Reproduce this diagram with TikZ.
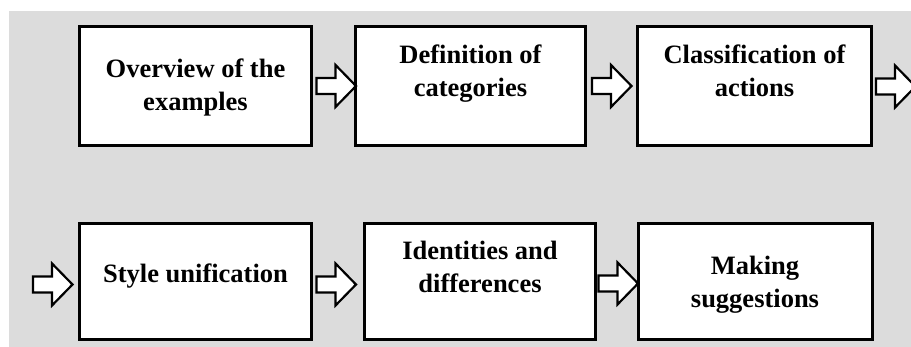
\documentclass[tikz,border=0pt]{standalone}
\usepackage{fontspec}
\setmainfont{Liberation Serif}
\usetikzlibrary{calc}
\definecolor{bggray}{RGB}{220,220,220}
\tikzset{
  blockarrow/.pic={\draw[line width=2.2pt, fill=white, line join=miter]
     (0,-8) -- (19,-8) -- (19,-21) -- (39.5,0) -- (19,21) -- (19,8) -- (0,8) -- cycle;},
}
\begin{document}
\begin{tikzpicture}[x=1pt,y=-1pt,
  stepbox/.style={draw, line width=3pt, fill=white, minimum width=#1, inner sep=0pt},
  toprow/.style={minimum height=119pt},
  botrow/.style={minimum height=116pt},
  label text/.style={anchor=base, align=center, font=\fontsize{26.5}{33}\selectfont\bfseries, inner sep=0pt}
]
\useasboundingbox (0,0) rectangle (911,347);
\fill[white] (0,0) rectangle (911,347);
\fill[bggray] (9,11) rectangle (911,347);

% boxes
\node[stepbox=232, toprow] (b1) at (195.5,86) {};
\node[stepbox=230, toprow] (b2) at (470.5,86) {};
\node[stepbox=234, toprow] (b3) at (754.5,86.5) {};
\node[stepbox=232, botrow] (b4) at (195.5,281.5) {};
\node[stepbox=231, botrow] (b5) at (480,281.5) {};
\node[stepbox=234, botrow] (b6) at (755,281.5) {};

% texts (base anchor = baseline of the last line)
\node[label text] (t1) at (195.5,111) {Overview of the\\examples};
\node[label text] (t2) at (470.5,97) {Definition of\\categories};
\node[label text] (t3) at (754.5,97) {Classification of\\actions};
\node[label text] (t4) at (195.5,283) {Style unification};
\node[label text] (t5) at (480,293) {Identities and\\differences};
\node[label text] (t6) at (755,308) {Making\\suggestions};

% connectors
\coordinate (inL) at ($(b4.west)+(-45,3)$);
\coordinate (outR) at ($(b3.east)+(3,0)$);
\pic at ($(b1.east)+(3.5,0)$) {blockarrow};
\pic at ($(b2.east)+(5,0)$) {blockarrow};
\pic at (outR) {blockarrow};
\pic at (inL) {blockarrow};
\pic at ($(b4.east)+(3.5,3)$) {blockarrow};
\pic at ($(b5.east)+(1.5,2)$) {blockarrow};
\end{tikzpicture}
\end{document}
